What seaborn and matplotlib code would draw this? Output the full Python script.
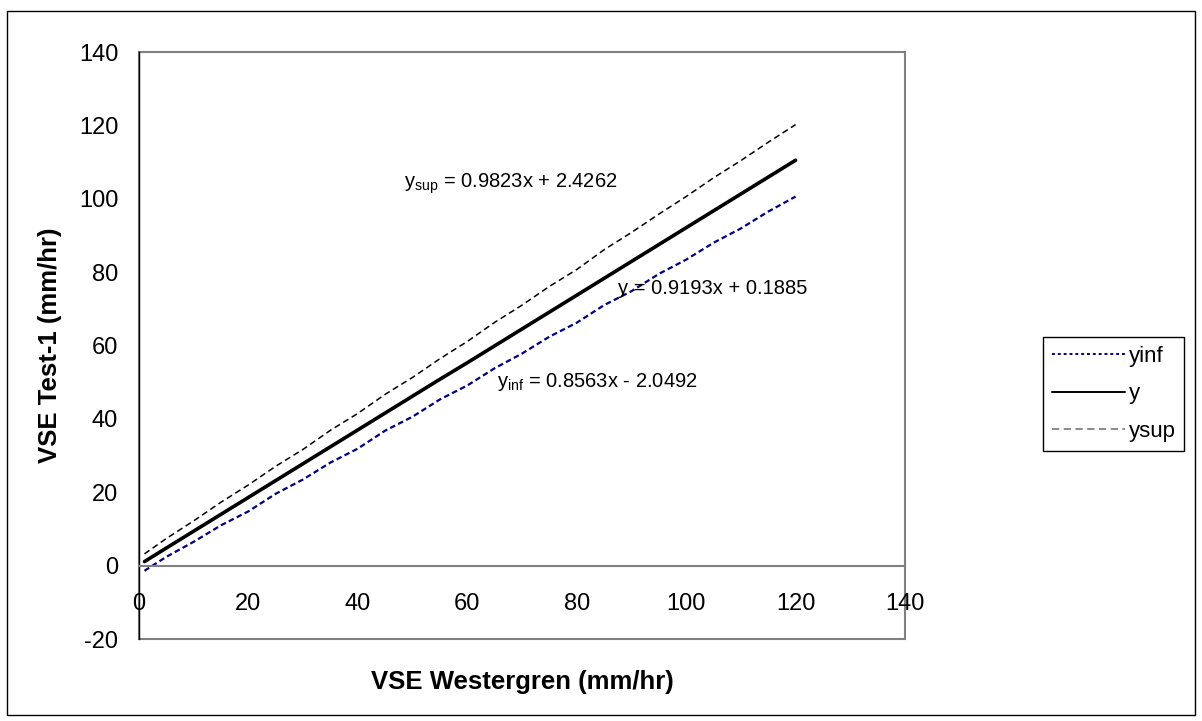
# VSE Test-1 vs VSE Westergren - regression line with upper / lower limits
import numpy as np
import pandas as pd
import matplotlib
matplotlib.use("Agg")
import matplotlib.pyplot as plt
import seaborn as sns
from matplotlib.patches import Rectangle
from matplotlib.lines import Line2D

# data
x_vals = [1, 5, 10, 15, 20, 25, 30, 35, 40, 45, 50, 55, 60, 65, 70, 75, 80, 85, 90, 95, 100, 105, 110, 115, 120]
y_fit = [1.1, 4.8, 9.4, 14.0, 18.6, 23.2, 27.8, 32.4, 37.0, 41.6, 46.2, 50.8, 55.3, 59.9,
         64.5, 69.1, 73.7, 78.3, 82.9, 87.5, 92.1, 96.7, 101.3, 105.9, 110.5]
y_sup = [3.2, 7.4, 12.2, 17.3, 22.0, 27.1, 31.7, 36.9, 41.5, 46.7, 51.3, 56.4, 61.1, 66.3,
         71.0, 76.1, 80.7, 86.1, 90.8, 95.8, 100.6, 105.7, 110.4, 115.4, 120.2]
y_inf = [-1.4, 2.4, 6.5, 11.0, 14.8, 19.6, 23.5, 28.1, 31.9, 36.8, 40.6, 45.3, 49.1, 53.8,
         57.8, 62.4, 66.2, 71.0, 74.8, 79.5, 83.4, 88.0, 91.9, 96.5, 100.6]

x_ticks = [0, 20, 40, 60, 80, 100, 120, 140]
y_ticks = [-20, 0, 20, 40, 60, 80, 100, 120, 140]

eq_sup = r"y$_{\mathrm{sup}}$ = 0.9823x + 2.4262"
eq_fit = "y = 0.9193x + 0.1885"
eq_inf = r"y$_{\mathrm{inf}}$ = 0.8563x - 2.0492"

df = pd.DataFrame({"x": x_vals, "yinf": y_inf, "y": y_fit, "ysup": y_sup})

sns.set_style("white")
plt.rcParams["font.family"] = ["Liberation Sans", "DejaVu Sans"]
plt.rcParams["mathtext.fontset"] = "custom"
plt.rcParams["mathtext.rm"] = "Liberation Sans"
plt.rcParams["mathtext.it"] = "Liberation Sans:italic"
plt.rcParams["mathtext.bf"] = "Liberation Sans:bold"
plt.rcParams["axes.unicode_minus"] = False
for k in ["text.color", "axes.labelcolor", "xtick.color", "ytick.color"]:
    plt.rcParams[k] = "black"

fig = plt.figure(figsize=(12.02, 7.21), dpi=100)
ax = fig.add_axes([139 / 1202, 1 - 639 / 721, 766 / 1202, 587 / 721])

sns.lineplot(data=df, x="x", y="yinf", ax=ax, color="#000080", lw=1.6,
             linestyle=(0, (2.5, 1.5)), estimator=None)
sns.lineplot(data=df, x="x", y="y", ax=ax, color="black", lw=2.6,
             estimator=None)
sns.lineplot(data=df, x="x", y="ysup", ax=ax, color="black", lw=1.1,
             linestyle=(0, (4, 2.5)), estimator=None)

ax.set_xlim(0, 140)
ax.set_ylim(-20, 140)
ax.set_xticks(x_ticks)
ax.set_yticks(y_ticks)
ax.tick_params(axis="both", labelsize=17, direction="out", length=5, width=1)
ax.tick_params(axis="x", pad=15, color="#808080", labelcolor="black")
ax.tick_params(axis="y", pad=10, color="#404040", labelcolor="black")

# x axis crosses at y = 0
ax.spines["bottom"].set_position(("data", 0))
ax.spines["bottom"].set_color("#808080")
ax.spines["bottom"].set_linewidth(1.5)
ax.spines["left"].set_color("black")
ax.spines["left"].set_linewidth(1)
for s in ["top", "right"]:
    ax.spines[s].set_visible(False)
ax.add_patch(Rectangle((0, 0), 1, 1, transform=ax.transAxes, fill=False,
                       edgecolor="#808080", lw=1.5, clip_on=False, zorder=0))

ax.set_xlabel("VSE Westergren (mm/hr)", fontsize=18.5, fontweight="bold")
ax.set_ylabel("VSE Test-1 (mm/hr)", fontsize=18.5, fontweight="bold")
ax.xaxis.set_label_coords(0.5, -0.053)
ax.yaxis.set_label_coords(-0.10, 0.5)
ax.xaxis.label.set_va("top")

ax.text(48.4, 103.1, eq_sup, fontsize=14.5, ha="left", va="baseline")
ax.text(87.5, 74.0, eq_fit, fontsize=14.5, ha="left", va="baseline")
ax.text(65.4, 48.7, eq_inf, fontsize=14.5, ha="left", va="baseline")

handles = [
    Line2D([], [], color="#000080", lw=1.4, linestyle=(0, (1.5, 1.5))),
    Line2D([], [], color="black", lw=1.4),
    Line2D([], [], color="#808080", lw=1.3, linestyle=(0, (4, 2.5))),
]
leg = fig.legend(handles, ["yinf", "y", "ysup"], loc="lower left",
                 bbox_to_anchor=(1043 / 1202, 1 - 451 / 721),
                 fontsize=16, frameon=True, fancybox=False, framealpha=1,
                 edgecolor="black", handlelength=3.3, handletextpad=0.15,
                 labelspacing=0.75, borderpad=0.4, borderaxespad=0)
leg.get_frame().set_linewidth(1)

fig.patches.append(Rectangle((7 / 1202, 1 - 715 / 721), 1188 / 1202, 704 / 721,
                             transform=fig.transFigure, fill=False,
                             edgecolor="black", lw=1))

plt.savefig("out.png", dpi=100)
